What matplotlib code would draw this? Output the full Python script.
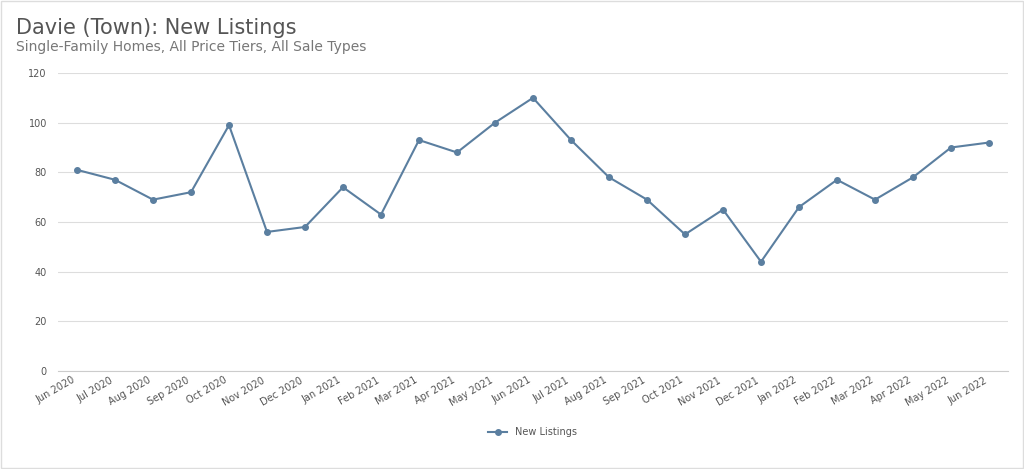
import matplotlib.pyplot as plt

months = ['Jun 2020', 'Jul 2020', 'Aug 2020', 'Sep 2020', 'Oct 2020', 'Nov 2020', 'Dec 2020',
          'Jan 2021', 'Feb 2021', 'Mar 2021', 'Apr 2021', 'May 2021', 'Jun 2021', 'Jul 2021',
          'Aug 2021', 'Sep 2021', 'Oct 2021', 'Nov 2021', 'Dec 2021', 'Jan 2022', 'Feb 2022',
          'Mar 2022', 'Apr 2022', 'May 2022', 'Jun 2022']
new_listings = [81, 77, 69, 72, 99, 56, 58, 74, 63, 93, 88, 100, 110, 93,
                78, 69, 55, 65, 44, 66, 77, 69, 78, 90, 92]
y_ticks = [0, 20, 40, 60, 80, 100, 120]

line_color = '#5b7fa0'
text_color = '#555555'

fig = plt.figure(figsize=(10.24, 4.69), dpi=100)
ax = fig.add_axes([58 / 1024, 1 - 371 / 469, 950 / 1024, 298 / 469])

x = range(len(months))
ax.plot(x, new_listings, color=line_color, lw=1.5, marker='o', ms=4, label='New Listings')

ax.set_ylim(0, 120)
ax.set_xlim(-0.5, len(months) - 0.5)
ax.set_yticks(y_ticks)
ax.set_xticks(list(x))
ax.set_xticklabels(months, rotation=30, ha='right', fontsize=7, color=text_color)
ax.tick_params(axis='y', labelsize=7, labelcolor=text_color, length=0, pad=8)
ax.tick_params(axis='x', length=0, pad=3)
ax.grid(axis='y', color='#dddddd', lw=0.8)
ax.set_axisbelow(True)
for side in ['top', 'right', 'left']:
    ax.spines[side].set_visible(False)
ax.spines['bottom'].set_color('#cccccc')

fig.text(16 / 1024, 1 - 28 / 469, 'Davie (Town): New Listings', fontsize=15, color=text_color, va='center')
fig.text(16 / 1024, 1 - 47 / 469, 'Single-Family Homes, All Price Tiers, All Sale Types', fontsize=10,
         color='#777777', va='center')

fig.legend(loc='center', bbox_to_anchor=(0.52, 1 - 432 / 469), frameon=False, fontsize=7,
           labelcolor=text_color)

fig.patches.append(plt.Rectangle((0.001, 0.002), 0.998, 0.996, transform=fig.transFigure,
                                 fill=False, edgecolor='#dddddd', lw=1))

fig.savefig('out.png', dpi=100)
